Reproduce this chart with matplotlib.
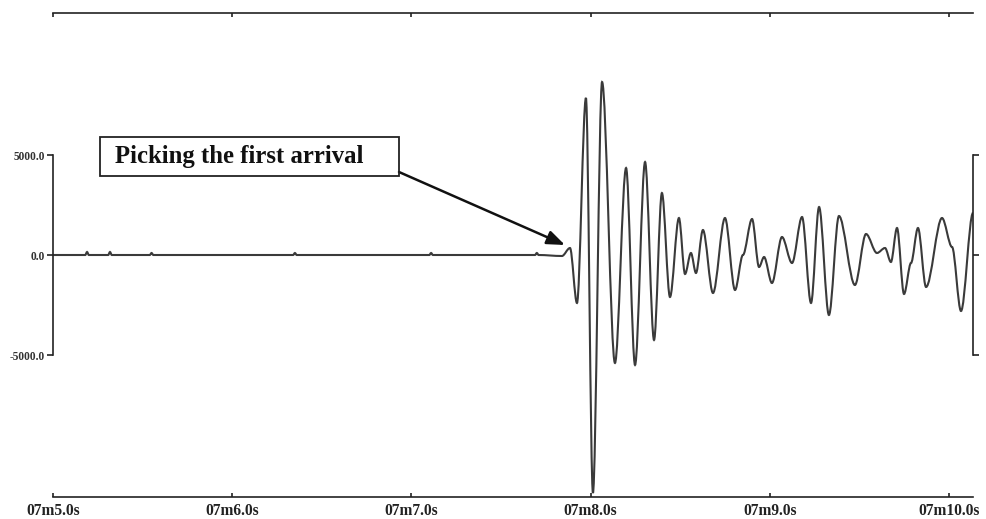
import matplotlib
matplotlib.use("Agg")
import matplotlib.pyplot as plt
from matplotlib.path import Path
from matplotlib.patches import PathPatch, Rectangle

# ---- data (time in seconds after 07m, amplitude in counts) ----
pick_times = [5.000, 5.180, 5.190, 5.200, 5.308, 5.318, 5.328, 5.540, 5.550, 5.560,
              6.340, 6.350, 6.360, 7.100, 7.110, 7.120, 7.690, 7.700, 7.710,
              7.840, 7.885, 7.924, 7.974, 8.013, 8.064, 8.136, 8.198, 8.248, 8.304,
              8.354, 8.398, 8.443, 8.493, 8.527, 8.560, 8.588, 8.627, 8.683, 8.750,
              8.806, 8.850, 8.901, 8.940, 8.968, 9.012, 9.068, 9.124, 9.180, 9.230,
              9.275, 9.330, 9.386, 9.475, 9.537, 9.598, 9.643, 9.676, 9.710, 9.749,
              9.788, 9.827, 9.872, 9.961, 10.017, 10.067, 10.134]
amplitudes = [0, 0, 150, 0, 0, 150, 0, 0, 100, 0,
              0, 100, 0, 0, 100, 0, 0, 100, 0,
              -50, 350, -2400, 7850, -11900, 8650, -5400, 4350, -5500, 4650,
              -4250, 3100, -2100, 1850, -950, 100, -900, 1250, -1900, 1850,
              -1750, 0, 1800, -600, -100, -1400, 900, -400, 1900, -2400,
              2400, -3000, 1950, -1500, 1050, 100, 350, -350, 1350, -1950,
              -400, 1350, -1600, 1850, 400, -2800, 2100]
x_ticks = [5.0, 6.0, 7.0, 8.0, 9.0, 10.0]
x_labels = ["07m5.0s", "07m6.0s", "07m7.0s", "07m8.0s", "07m9.0s", "07m10.0s"]
y_ticks = [-5000, 0, 5000]
y_labels = ["-5000.0", "0.0", "5000.0"]
annotation_text = "Picking the first arrival"
arrow_target = (7.857, 500)

W, H = 987, 519
fig = plt.figure(figsize=(W / 100, H / 100), dpi=100)
ax = fig.add_axes([53 / W, 22 / H, 920 / W, 484 / H])
ax.set_xlim(5.0, 10.134)
ax.set_ylim(-12100, 12100)

# smooth waveform through the read extrema (horizontal tangents at each point)
verts = [(pick_times[0], amplitudes[0])]
codes = [Path.MOVETO]
for i in range(1, len(pick_times)):
    t0, v0 = pick_times[i - 1], amplitudes[i - 1]
    t1, v1 = pick_times[i], amplitudes[i]
    dt = t1 - t0
    verts += [(t0 + dt / 3, v0), (t1 - dt / 3, v1), (t1, v1)]
    codes += [Path.CURVE4] * 3
ax.add_patch(PathPatch(Path(verts, codes), fill=False, edgecolor="#3a3a3a",
                       linewidth=1.5, transform=ax.transData))

serif = ["Liberation Serif", "DejaVu Serif"]
spine_color = "#222222"
for s in ax.spines.values():
    s.set_color(spine_color)
    s.set_linewidth(1.2)
ax.spines["left"].set_bounds(-5000, 5000)
ax.spines["right"].set_bounds(-5000, 5000)

ax.set_xticks(x_ticks)
ax.set_xticklabels(x_labels, fontfamily=serif, fontweight="bold", fontsize=11.2)
ax.set_yticks(y_ticks)
ax.set_yticklabels(y_labels, fontfamily=serif, fontweight="bold", fontsize=8.3)
ax.tick_params(axis="x", which="both", direction="in", length=3, width=1.2,
               top=True, bottom=True, labeltop=False, pad=4, colors=spine_color,
               labelcolor="#222222")
ax.tick_params(axis="y", which="both", direction="out", length=4, width=1.2,
               left=True, right=True, labelright=False, pad=2, colors=spine_color,
               labelcolor="#333333")

# annotation box, text and arrow
fig.add_artist(Rectangle((100 / W, (H - 176) / H), 299 / W, 39 / H,
                         transform=fig.transFigure, fill=False,
                         edgecolor="#222222", linewidth=1.3))
fig.text(115 / W, (H - 157) / H, annotation_text, fontfamily=serif,
         fontweight="bold", fontsize=17.8, ha="left", va="center", color="#111111")
ax.annotate("", xy=arrow_target, xycoords="data",
            xytext=(399, H - 172), textcoords="figure pixels",
            arrowprops=dict(arrowstyle="-|>,head_length=0.9,head_width=0.35",
                            color="#111111", linewidth=1.8, shrinkA=0, shrinkB=0,
                            mutation_scale=12))

fig.savefig("out.png", dpi=100, facecolor="white")
